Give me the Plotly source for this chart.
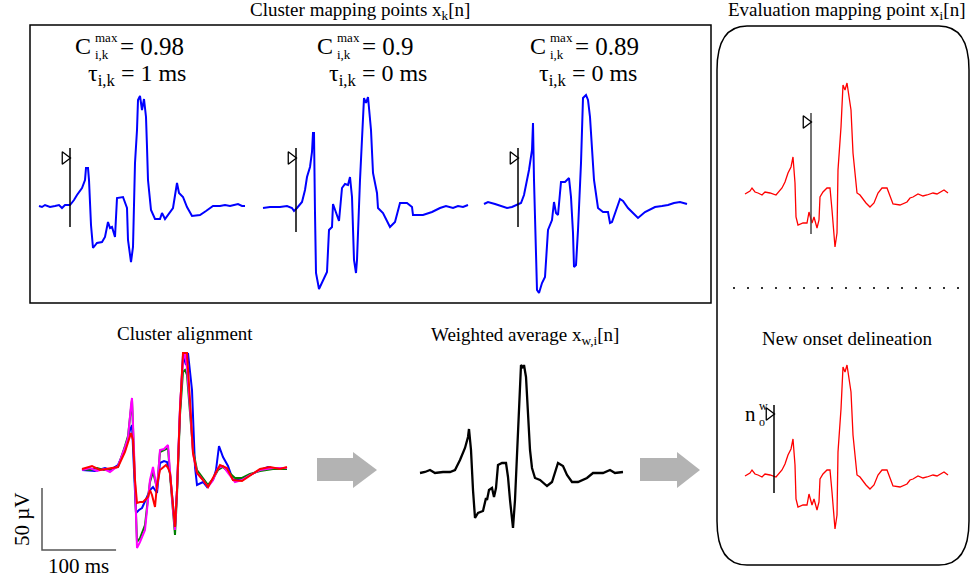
import plotly.graph_objects as go

W, H = 971, 579
MS_PER_UNIT = 1.35      # horizontal: 1 sample unit = 1.35 ms
UV_PER_UNIT = 0.806     # vertical: 1 amplitude unit = 0.806 uV
SCALE_MS = 100
SCALE_UV = 50
FONT = "Liberation Serif"

# ---------------- data (time in samples from onset, amplitude in units) -------------
# Cluster mapping point 1 (C=0.98, tau=1 ms)
c1_t = [-31, -28, -25, -22, -20, -15, -11, -8, -5, 0, 4, 7, 10, 12, 15, 16, 18, 19, 21, 22, 23, 27, 32, 35, 38, 40,
        42, 45, 47, 53, 57, 58, 61, 63, 65, 67, 68, 70, 72, 74, 76, 77, 78, 81, 85, 90, 92, 95, 98, 103, 107, 109,
        113, 117, 122, 130, 136, 143, 150, 155, 160, 168, 172, 175]
c1_a = [0, -1, 1, 0, -1, 0, 1, -2, 1, 1, 6, 11, 15, 18, 26, 38, 38, 26, -19, -37, -42, -37, -36, -31, -16, -22,
        -21, -31, 8, 9, -2, -34, -56, -41, 43, 76, 106, 110, 96, 107, 89, 59, 26, -4, -13, -13, -7, -13, -9, -2,
        23, 13, 9, -1, -10, -9, -5, 0, 0, 1, 0, 2, 0, 0]
# Cluster mapping point 2 (C=0.9, tau=0 ms)
c2_t = [-33, -26, -16, -9, -4, -2, 1, 6, 9, 11, 14, 16, 17, 18, 19, 20, 23, 26, 31, 33, 36, 37, 40, 43, 46, 49,
        52, 54, 56, 58, 60, 61, 64, 66, 68, 70, 72, 75, 77, 81, 82, 87, 94, 99, 104, 111, 116, 117, 127, 136,
        144, 150, 157, 162, 167, 172]
c2_a = [-1, 0, 0, 1, -1, -4, -1, 5, 17, 30, 40, 55, 74, 74, -6, -66, -82, -75, -65, -23, -20, 3, -5, -14, 19, 23,
        22, 30, 10, -53, -66, -53, 27, 67, 109, 104, 110, 77, 34, 14, -1, -6, -20, -15, 4, 4, 0, -8, -8, -5,
        -1, 1, -1, 1, 0, 2]
# Cluster mapping point 3 (C=0.89, tau=0 ms)
c3_t = [-34, -30, -23, -16, -11, -6, -1, 3, 6, 9, 11, 14, 15, 16, 18, 19, 21, 24, 27, 30, 34, 36, 38, 40, 43, 47,
        51, 53, 55, 56, 58, 60, 63, 64, 65, 68, 70, 72, 74, 76, 80, 85, 90, 92, 94, 99, 102, 105, 110, 115, 120,
        127, 137, 144, 150, 156, 162, 169]
c3_a = [0, 2, 0, -2, -4, -3, -1, 1, 9, 24, 34, 54, 81, 24, -43, -86, -89, -79, -73, -26, -16, 2, -9, -11, 22, 22,
        26, 7, -29, -63, -61, -26, 41, 77, 106, 109, 104, 87, 57, 24, -4, -8, -8, -19, -18, -4, 5, 3, -4, -9, -14,
        -8, -3, -2, -1, 1, 2, 0]
# Onset marks of the cluster mapping points: [time, line bottom, line top, flag amplitude]
c1_onset = [0, -21, 58, 48]
c2_onset = [0, -25, 59, 49]
c3_onset = [0, -23, 56, 46]

# Evaluation mapping point x_i[n] (time from new onset)
ev_t = [-29, -26, -24, -22, -19, -16, -12, -9, -4, 2, 5, 8, 11, 14, 17, 19, 21, 22, 24, 29, 33, 35, 38, 40, 43, 45,
        46, 49, 53, 56, 58, 60, 61, 63, 64, 67, 69, 71, 73, 77, 79, 81, 83, 86, 89, 92, 96, 100, 104, 108, 113, 116,
        119, 126, 133, 136, 139, 144, 149, 153, 159, 163, 166, 170, 174]
ev_a = [-1, 1, 2, 5, 1, 0, -2, 1, 0, -2, 1, 5, 11, 20, 26, 36, 10, -24, -32, -30, -30, -19, -30, -24, -35, -27,
        -4, 1, 5, 5, -17, -37, -54, -40, 23, 66, 108, 103, 110, 83, 40, 20, 0, -2, -6, -10, -14, -10, 0, 5, 5, -4,
        -11, -12, -9, -5, -4, -1, -3, -2, 0, -1, 1, 3, 0]
ev_old_onset = [37, -41, 80, 71]
ev_new_onset = [0, -18, 70, 61]

# Weighted average x_w,i[n]
wa_t = [-35, -30, -25, -20, -12, -5, 0, 5, 10, 13, 14, 16, 18, 20, 23, 28, 31, 32, 34, 37, 39, 41, 43, 47, 51, 53,
        55, 58, 60, 62, 64, 66, 68, 69, 71, 73, 75, 77, 80, 85, 92, 97, 100, 103, 108, 112, 117, 123, 132, 138,
        148, 155, 160, 168]
wa_a = [0, 1, 3, 0, 1, 1, 3, 13, 25, 36, 44, 23, -17, -45, -40, -38, -25, -27, -17, -15, -24, -15, 8, 10, 10, -4,
        -27, -55, -27, 23, 73, 108, 105, 108, 96, 63, 23, 5, -5, -7, -13, -9, 1, 10, 7, -2, -9, -9, -5, 0, 0, 3,
        0, 1]

# Cluster alignment (four aligned signals)
al_mag_t = [-36, -28, -21, -14, -8, 0, 7, 10, 13, 14, 16, 18, 19, 22, 24, 27, 30, 32, 35, 37, 39, 42, 46, 50, 52,
            55, 57, 59, 62, 65, 67, 69, 72, 75, 79, 85, 90, 95, 100, 105, 110, 117, 124, 132, 142, 155, 169]
al_mag_a = [0, 2, -1, 1, -2, 4, 23, 32, 65, 72, 20, -50, -78, -72, -67, -60, -30, -10, 3, -8, -20, 20, 21, 25, -3,
            -40, -60, -20, 63, 110, 117, 102, 63, 17, -3, -10, -17, -10, 2, 4, -3, -12, -10, -5, 0, 2, 2]
al_grn_t = [-36, -28, -21, -14, -8, 0, 7, 10, 13, 14, 16, 18, 19, 22, 24, 27, 30, 32, 35, 37, 39, 42, 46, 50, 52,
            55, 57, 59, 62, 65, 67, 69, 72, 75, 79, 85, 90, 95, 100, 105, 110, 117, 124, 132, 142, 155, 169]
al_grn_a = [1, 0, 2, 0, 1, 3, 24, 34, 62, 70, 15, -48, -72, -68, -63, -55, -28, -12, -2, -10, -18, 18, 20, 22, -5,
            -45, -65, -25, 55, 98, 100, 95, 60, 20, 0, -8, -15, -9, 0, 3, -2, -8, -8, -4, -1, 1, 1]
al_blu_t = [-36, -23, -13, -8, 0, 7, 12, 14, 16, 18, 21, 24, 29, 32, 35, 39, 42, 46, 49, 52, 55, 57, 59, 62, 65,
            68, 70, 74, 77, 79, 85, 89, 95, 98, 101, 105, 110, 115, 124, 132, 142, 150, 157, 169]
al_blu_a = [0, -1, 2, 0, 5, 20, 40, 45, 0, -43, -40, -38, -27, -20, -17, -23, 7, 9, 8, -3, -35, -58, -20, 60, 115,
            105, 117, 80, 3, -15, -12, -17, -10, 0, 24, 13, 4, -10, -10, -5, 0, 3, 1, 2]
al_red_t = [-36, -26, -18, -8, 0, 7, 13, 15, 17, 19, 22, 25, 30, 32, 34, 37, 39, 42, 48, 50, 52, 55, 57, 59, 62,
            65, 69, 72, 75, 79, 85, 90, 95, 102, 109, 115, 124, 132, 142, 152, 162, 169]
al_red_a = [1, 4, 0, 2, 3, 18, 37, 30, -10, -33, -32, -32, -27, -20, -25, -37, -15, 0, 5, 2, -3, -35, -57, -20, 60,
            117, 117, 70, 17, -3, -10, -17, -8, 5, 2, -10, -11, -6, 1, 3, 1, 3]

# ---------------- figure ----------------
fig = go.Figure()
layout = dict(
    xaxis=dict(domain=[0, 1], range=[0, W], visible=False, fixedrange=True),
    yaxis=dict(domain=[0, 1], range=[H, 0], visible=False, fixedrange=True),
)
fig.add_trace(go.Scatter(x=[0], y=[0], mode="markers", marker=dict(opacity=0), hoverinfo="skip",
                         showlegend=False, xaxis="x", yaxis="y"))
n_ax = [1]


def panel(ox, oy):
    n_ax[0] += 1
    k = n_ax[0]
    layout[f"xaxis{k}"] = dict(domain=[0, 1], range=[-ox, W - ox], visible=False, fixedrange=True,
                               anchor=f"y{k}")
    layout[f"yaxis{k}"] = dict(domain=[0, 1], range=[oy - H, oy], visible=False, fixedrange=True,
                               anchor=f"x{k}")
    return f"x{k}", f"y{k}"


def sig(ax, t, a, color, width):
    fig.add_trace(go.Scatter(x=t, y=a, mode="lines", line=dict(color=color, width=width),
                             hoverinfo="skip", showlegend=False, xaxis=ax[0], yaxis=ax[1]))


def onset(ax, m, color="black"):
    fig.add_trace(go.Scatter(x=[m[0], m[0]], y=[m[1], m[2]], mode="lines", line=dict(color=color, width=1.5),
                             hoverinfo="skip", showlegend=False, xaxis=ax[0], yaxis=ax[1]))
    fig.add_trace(go.Scatter(x=[m[0] - 5], y=[m[3]], mode="markers",
                             marker=dict(symbol="triangle-right-open", size=11, color="black",
                                         line=dict(width=1.3, color="black")),
                             hoverinfo="skip", showlegend=False, xaxis=ax[0], yaxis=ax[1]))


BLUE = "#0000ff"
ax = panel(70, 206); sig(ax, c1_t, c1_a, BLUE, 2); onset(ax, c1_onset)
ax = panel(296, 207); sig(ax, c2_t, c2_a, BLUE, 2); onset(ax, c2_onset)
ax = panel(518, 204); sig(ax, c3_t, c3_a, BLUE, 2); onset(ax, c3_onset)

ax = panel(774, 193); sig(ax, ev_t, ev_a, "#ff0000", 1.3); onset(ax, ev_old_onset, "#444444")
ax = panel(774, 475); sig(ax, ev_t, ev_a, "#ff0000", 1.3); onset(ax, ev_new_onset)

ax = panel(455, 473); sig(ax, wa_t, wa_a, "black", 2.3)

ax = panel(118, 470)
sig(ax, al_blu_t, al_blu_a, BLUE, 2)
sig(ax, al_grn_t, al_grn_a, "#008000", 2)
sig(ax, al_mag_t, al_mag_a, "#ff00ff", 2)
sig(ax, al_red_t, al_red_a, "#ff0000", 2)

# scale bar
ax = panel(42, 550)
fig.add_trace(go.Scatter(x=[0, 0, SCALE_MS / MS_PER_UNIT], y=[SCALE_UV / UV_PER_UNIT, 0, 0], mode="lines",
                         line=dict(color="#555555", width=1.5), hoverinfo="skip", showlegend=False,
                         xaxis=ax[0], yaxis=ax[1]))

# ---------------- decorations ----------------
shapes = [
    dict(type="rect", xref="x", yref="y", x0=30, x1=711, y0=25, y1=303, line=dict(color="black", width=1.5)),
    dict(type="path", xref="x", yref="y",
         path="M 747,26 L 939,26 Q 969,26 969,70 L 969,521 Q 969,565 939,565 L 747,565 "
              "Q 717,565 717,521 L 717,70 Q 717,26 747,26 Z",
         line=dict(color="black", width=1.5)),
    dict(type="line", xref="x", yref="y", x0=733, x1=962, y0=288, y1=288,
         line=dict(color="#333333", width=2, dash="2px,12px")),
    dict(type="path", xref="x", yref="y", fillcolor="#b3b3b3", line=dict(width=0),
         path="M 317,458 L 353,458 L 353,452 L 377,470 L 353,488 L 353,481 L 317,481 Z"),
    dict(type="path", xref="x", yref="y", fillcolor="#b3b3b3", line=dict(width=0),
         path="M 640,458 L 677,458 L 677,452 L 700,470 L 677,488 L 677,481 L 640,481 Z"),
]

ann = []


def txt(x, y, s, size=17, xanchor="center", align="center", angle=0):
    ann.append(dict(x=x, y=y, xref="x", yref="y", text=s, showarrow=False, xanchor=xanchor,
                    yanchor="middle", align=align, textangle=angle,
                    font=dict(family=FONT, size=size, color="black")))


txt(360, 11, "Cluster mapping points x<sub>k</sub>[n]", size=19)
txt(846, 11, "Evaluation mapping point x<sub>i</sub>[n]", size=19)
txt(185, 333, "Cluster alignment", size=19)
txt(525, 336, "Weighted average x<sub>w,i</sub>[n]", size=19)
txt(847, 338, "New onset delineation", size=19)

for cx, val, tau, tc in [(93, "0.98", "1", 137), (335, "0.9", "0", 378), (548, "0.89", "0", 588)]:
    txt(cx, 46, "C", size=24, xanchor="right")
    txt(cx, 46, "max<br>i,k", size=13, xanchor="left", align="left")
    txt(cx + 25, 46, "= " + val, size=25, xanchor="left")
    txt(tc, 75, "τ<sub>i,k</sub> = " + tau + " ms", size=24)

txt(758, 414, "n", size=21, xanchor="right")
txt(757, 414, "w<br>o", size=12, xanchor="left", align="left")

txt(22, 519, "50 µV", size=21, angle=-90)
txt(78, 566, "100 ms", size=21)

layout.update(dict(
    width=W, height=H, margin=dict(l=0, r=0, t=0, b=0),
    paper_bgcolor="white", plot_bgcolor="rgba(0,0,0,0)",
    shapes=shapes, annotations=ann, showlegend=False,
))
fig.update_layout(**layout)
fig.write_html("out.html", config={"displayModeBar": False, "staticPlot": True},
               post_script="document.body.style.margin='0';")
